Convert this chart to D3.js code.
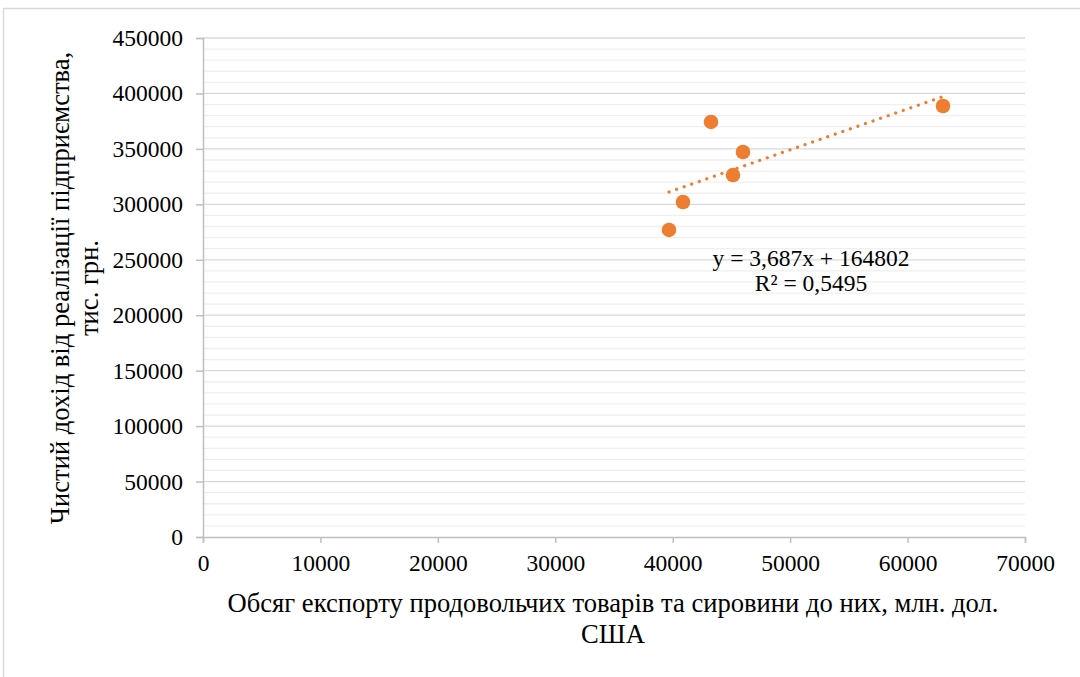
<!DOCTYPE html>
<html>
<head>
<meta charset="utf-8">
<script src="https://cdn.jsdelivr.net/npm/d3@7"></script>
<style>
body { margin: 0; background: #fff; }
text { font-family: "Liberation Serif", "Times New Roman", serif; fill: #000; }
</style>
</head>
<body>
<svg id="chart" width="1080" height="677"></svg>
<script>
var exportVolume = [39684, 40876, 43260, 45134, 45985, 63017];
var netIncome = [276900, 302100, 374300, 326400, 347200, 388700];
var xTicks = [0, 10000, 20000, 30000, 40000, 50000, 60000, 70000];
var yTicks = [0, 50000, 100000, 150000, 200000, 250000, 300000, 350000, 400000, 450000];
var slope = 3.687, intercept = 164802;
var eqLabel = 'y = 3,687x + 164802';
var r2Label = 'R² = 0,5495';
var xTitle = ['Обсяг експорту продовольчих товарів та сировини до них, млн. дол.', 'США'];
var yTitle = ['Чистий дохід від реалізації підприємства,', 'тис. грн.'];

var svg = d3.select('#chart');
var orange = '#ED7D31';

// outer frame
svg.append('path')
    .attr('d', 'M3.5,677 V8.5 H1080')
    .attr('fill', 'none')
    .attr('stroke', '#d9d9d9')
    .attr('stroke-width', 1.5);

var x = d3.scaleLinear().domain([0, 70000]).range([203, 1025]);
var y = d3.scaleLinear().domain([0, 450000]).range([537, 38]);

// minor gridlines
var minor = d3.range(10000, 450000, 10000).filter(function(d) { return d % 50000 !== 0; });
svg.append('g').selectAll('line')
    .data(minor)
    .enter().append('line')
    .attr('x1', x(0)).attr('x2', x(70000))
    .attr('y1', function(d) { return y(d); })
    .attr('y2', function(d) { return y(d); })
    .attr('stroke', '#efefef')
    .attr('stroke-width', 1.3);

// major gridlines
svg.append('g').selectAll('line')
    .data(yTicks.slice(1))
    .enter().append('line')
    .attr('x1', x(0)).attr('x2', x(70000))
    .attr('y1', function(d) { return y(d); })
    .attr('y2', function(d) { return y(d); })
    .attr('stroke', '#d9d9d9')
    .attr('stroke-width', 1.3);

// y axis
var yAxis = svg.append('g')
    .attr('transform', 'translate(' + x(0) + ',0)')
    .call(d3.axisLeft(y).tickValues(yTicks).tickSize(7).tickPadding(13).tickFormat(d3.format('d')));
yAxis.select('.domain').attr('stroke', '#bfbfbf').attr('stroke-width', 1.5);
yAxis.selectAll('.tick line').attr('stroke', '#bfbfbf').attr('stroke-width', 1.5);
yAxis.selectAll('.tick text')
    .attr('font-size', 23.5)
    .attr('font-family', '"Liberation Serif", serif')
    .attr('fill', '#000');

// x axis
var xAxis = svg.append('g')
    .attr('transform', 'translate(0,' + y(0) + ')')
    .call(d3.axisBottom(x).tickValues(xTicks).tickSize(6).tickSizeOuter(6).tickPadding(11).tickFormat(d3.format('d')));
xAxis.select('.domain').attr('stroke', '#bfbfbf').attr('stroke-width', 1.5);
xAxis.selectAll('.tick line').attr('stroke', '#bfbfbf').attr('stroke-width', 1.5);
xAxis.selectAll('.tick text')
    .attr('font-size', 23.5)
    .attr('font-family', '"Liberation Serif", serif')
    .attr('fill', '#000');

// trendline
var xMin = d3.min(exportVolume), xMax = d3.max(exportVolume);
svg.append('line')
    .attr('x1', x(xMin)).attr('y1', y(slope * xMin + intercept))
    .attr('x2', x(xMax)).attr('y2', y(slope * xMax + intercept))
    .attr('stroke', orange)
    .attr('stroke-width', 3.2)
    .attr('stroke-linecap', 'round')
    .attr('stroke-dasharray', '0.1 7.9');

// points
svg.append('g').selectAll('circle')
    .data(exportVolume)
    .enter().append('circle')
    .attr('cx', function(d) { return x(d); })
    .attr('cy', function(d, i) { return y(netIncome[i]); })
    .attr('r', 7.3)
    .attr('fill', orange);

// equation label
var eq = svg.append('g').attr('transform', 'translate(811,0)');
eq.append('text').attr('x', 0).attr('y', 266).attr('text-anchor', 'middle').attr('font-size', 23.5).text(eqLabel);
eq.append('text').attr('x', 0).attr('y', 291).attr('text-anchor', 'middle').attr('font-size', 23.5).text(r2Label);

// x title
var xt = svg.append('g').attr('transform', 'translate(613,0)');
xt.append('text').attr('x', 0).attr('y', 612).attr('text-anchor', 'middle').attr('font-size', 26.6).text(xTitle[0]);
xt.append('text').attr('x', 0).attr('y', 643).attr('text-anchor', 'middle').attr('font-size', 26.6).text(xTitle[1]);

// y title
var yt = svg.append('g').attr('transform', 'translate(0,288) rotate(-90)');
yt.append('text').attr('x', 0).attr('y', 69).attr('text-anchor', 'middle').attr('font-size', 26.6).text(yTitle[0]);
yt.append('text').attr('x', 0).attr('y', 98).attr('text-anchor', 'middle').attr('font-size', 26.6).text(yTitle[1]);
</script>
</body>
</html>
